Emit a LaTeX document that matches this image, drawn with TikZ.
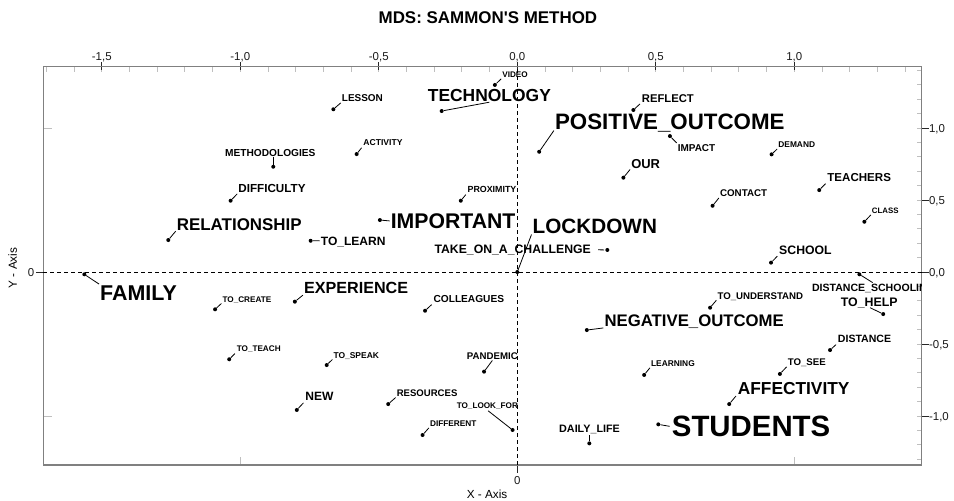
\documentclass[tikz,border=0pt]{standalone}
\usepackage{fontspec}
\setmainfont{Liberation Sans}[Ligatures=TeXOff]
\usetikzlibrary{positioning}

\tikzset{
  dot/.style={circle, fill=black, inner sep=0pt, minimum size=4bp},
  word/.style={font=\bfseries\fontsize{#1}{#1}\selectfont, inner sep=1bp, text depth=0pt, anchor=base west},
  lead/.style={line width=0.8bp, shorten >=1bp},
  minor/.style={draw=black!25, line width=0.8bp},
  major/.style={draw=black!85, line width=0.8bp},
  num/.style={font=\fontsize{11.5}{11.5}\selectfont, text=black!90, inner sep=0pt, text depth=0pt},
  axisline/.style={line width=0.8bp, dash pattern=on 4bp off 3bp},
}

\begin{document}
\begin{tikzpicture}[x=277bp, y=144bp]
    \useasboundingbox (-1.8675,-1.5833) rectangle (1.5765,1.8889);

    % Frame and ticks
    \coordinate (fsw) at (-1.711,-1.340);
    \coordinate (fne) at (1.460,1.426);
    \foreach \t in {-1.7,-1.6,...,1.45} \draw[minor] (\t,1.426) -- ++(0,-5bp);
    \foreach \t in {-1.3,-1.2,...,1.45} \draw[minor] (1.460,\t) -- ++(-5bp,0);
    \draw[minor] (-1.711,1) -- ++(9bp,0) (-1.711,-1) -- ++(9bp,0);
    \draw[minor] (-1,-1.340) -- ++(0,8bp) (1,-1.340) -- ++(0,8bp);
    \foreach \t/\l [count=\i] in {-1.5/{-1,5}, -1/{-1,0}, -0.5/{-0,5}, 0/{0,0}, 0.5/{0,5}, 1/{1,0}} {
        \draw[major] (\t,1.426) ++(0,-3bp) -- ++(0,8bp);
        \node[num, anchor=base] (xt\i) at (\t,1.472) {\l};
    }
    \foreach \t/\l [count=\i] in {1/{1,0}, 0.5/{0,5}, 0/{0,0}, -0.5/{-0,5}, -1/{-1,0}} {
        \draw[major] (1.460,\t) -- ++(7bp,0);
        \node[num, anchor=west] (yt\i) at (1.486,\t) {\l};
    }
    \draw[major] (-1.711,0) -- ++(-7bp,0);
    \node[num, anchor=east] (y0) at (-1.743,0) {0};
    \draw[major] (0,-1.340) -- ++(0,-8bp);
    \node[num, anchor=north] (x0) at (0,-1.417) {0};
    \draw[gray, line width=1.5bp] (fsw) rectangle (fne);

    % Axes
    \draw[axisline] (-1.711,0) -- (1.460,0);
    \draw[axisline] (0,-1.340) -- (0,1.426);

    % Titles
    \node[font=\bfseries\fontsize{17}{17}\selectfont] (title) at (-0.106,1.764) {MDS: SAMMON'S METHOD};
    \node[font=\fontsize{11.8}{11.8}\selectfont] (xlab) at (-0.109,-1.542) {X - Axis};
    \node[font=\fontsize{11.8}{11.8}\selectfont, rotate=90] (ylab) at (-1.822,0.028) {Y - Axis};

    % Points
    \node[dot] (lesson) at (-0.664,1.130) {};
    \node[dot] (technology) at (-0.273,1.118) {};
    \node[dot] (video) at (-0.081,1.299) {};
    \node[dot] (methods) at (-0.881,0.731) {};
    \node[dot] (activity) at (-0.580,0.819) {};
    \node[dot] (difficulty) at (-1.035,0.495) {};
    \node[dot] (relation) at (-1.260,0.222) {};
    \node[dot] (important) at (-0.496,0.361) {};
    \node[dot] (tolearn) at (-0.746,0.217) {};
    \node[dot] (proximity) at (-0.204,0.495) {};
    \node[dot] (lockdown) at (0,0) {};
    \node[dot] (challenge) at (0.325,0.153) {};
    \node[dot] (positive) at (0.079,0.835) {};
    \node[dot] (reflect) at (0.419,1.125) {};
    \node[dot] (impact) at (0.551,0.944) {};
    \node[dot] (our) at (0.383,0.655) {};
    \node[dot] (demand) at (0.918,0.817) {};
    \node[dot] (teachers) at (1.090,0.569) {};
    \node[dot] (contact) at (0.705,0.460) {};
    \node[dot] (class) at (1.253,0.349) {};
    \node[dot] (school) at (0.916,0.065) {};
    \node[dot] (distschool) at (1.235,-0.016) {};
    \node[dot] (tohelp) at (1.321,-0.292) {};
    \node[dot] (understand) at (0.696,-0.248) {};
    \node[dot] (negative) at (0.251,-0.403) {};
    \node[dot] (distance) at (1.129,-0.542) {};
    \node[dot] (tosee) at (0.948,-0.708) {};
    \node[dot] (learning) at (0.458,-0.715) {};
    \node[dot] (affect) at (0.765,-0.917) {};
    \node[dot] (students) at (0.509,-1.058) {};
    \node[dot] (daily) at (0.260,-1.190) {};
    \node[dot] (pandemic) at (-0.120,-0.692) {};
    \node[dot] (lookfor) at (-0.017,-1.097) {};
    \node[dot] (different) at (-0.342,-1.132) {};
    \node[dot] (resources) at (-0.466,-0.917) {};
    \node[dot] (colleagues) at (-0.333,-0.269) {};
    \node[dot] (experience) at (-0.803,-0.206) {};
    \node[dot] (tocreate) at (-1.091,-0.259) {};
    \node[dot] (family) at (-1.563,-0.016) {};
    \node[dot] (toteach) at (-1.040,-0.606) {};
    \node[dot] (tospeak) at (-0.688,-0.646) {};
    \node[dot] (new) at (-0.796,-0.958) {};

    % Words
    \begin{scope}
    \clip (fsw) rectangle (fne);
    \node[word=10] (lesson-w) at ([shift={(7.4bp,7.6bp)}]lesson) {LESSON};
    \node[word=17.5] (technology-w) at ([shift={(-15bp,10bp)}]technology) {TECHNOLOGY};
    \node[word=8.2] (video-w) at ([shift={(6.3bp,7.3bp)}]video) {VIDEO};
    \node[word=10.2] (methods-w) at ([shift={(-49.3bp,10.7bp)}]methods) {METHODOLOGIES};
    \node[word=8.6] (activity-w) at ([shift={(5.6bp,8.3bp)}]activity) {ACTIVITY};
    \node[word=11.7] (difficulty-w) at ([shift={(6.6bp,8bp)}]difficulty) {DIFFICULTY};
    \node[word=17] (relation-w) at ([shift={(7.4bp,10bp)}]relation) {RELATIONSHIP};
    \node[word=21.3] (important-w) at ([shift={(9.7bp,-8.3bp)}]important) {IMPORTANT};
    \node[word=12.1] (tolearn-w) at ([shift={(9bp,-4.3bp)}]tolearn) {TO\_LEARN};
    \node[word=8.9] (proximity-w) at ([shift={(5.6bp,8bp)}]proximity) {PROXIMITY};
    \node[word=20.8] (lockdown-w) at ([shift={(14.2bp,38.7bp)}]lockdown) {LOCKDOWN};
    \node[word=12.3] (challenge-w) at ([shift={(-174bp,-4bp)}]challenge) {TAKE\_ON\_A\_CHALLENGE};
    \node[word=22.4] (positive-w) at ([shift={(14.7bp,22.4bp)}]positive) {POSITIVE\_OUTCOME};
    \node[word=11.3] (reflect-w) at ([shift={(7.4bp,8bp)}]reflect) {REFLECT};
    \node[word=10] (impact-w) at ([shift={(6.7bp,-15bp)}]impact) {IMPACT};
    \node[word=13] (our-w) at ([shift={(6.7bp,9.4bp)}]our) {OUR};
    \node[word=8.4] (demand-w) at ([shift={(5.6bp,6.6bp)}]demand) {DEMAND};
    \node[word=11.6] (teachers-w) at ([shift={(7bp,8.3bp)}]teachers) {TEACHERS};
    \node[word=9.8] (contact-w) at ([shift={(6.3bp,9bp)}]contact) {CONTACT};
    \node[word=7.9] (class-w) at ([shift={(6.4bp,8bp)}]class) {CLASS};
    \node[word=12.3] (school-w) at ([shift={(7bp,8.4bp)}]school) {SCHOOL};
    \node[word=10.6] (distschool-w) at ([shift={(-48.6bp,-17.4bp)}]distschool) {DISTANCE\_SCHOOLING};
    \node[word=12.4] (tohelp-w) at ([shift={(-43.6bp,8bp)}]tohelp) {TO\_HELP};
    \node[word=9.7] (understand-w) at ([shift={(6.3bp,8.7bp)}]understand) {TO\_UNDERSTAND};
    \node[word=16.8] (negative-w) at ([shift={(16.6bp,3.3bp)}]negative) {NEGATIVE\_OUTCOME};
    \node[word=10.6] (distance-w) at ([shift={(6.7bp,7.3bp)}]distance) {DISTANCE};
    \node[word=9.7] (tosee-w) at ([shift={(6.7bp,8.3bp)}]tosee) {TO\_SEE};
    \node[word=8.4] (learning-w) at ([shift={(5.7bp,8.3bp)}]learning) {LEARNING};
    \node[word=17.4] (affect-w) at ([shift={(7.4bp,10bp)}]affect) {AFFECTIVITY};
    \node[word=29.5] (students-w) at ([shift={(12.4bp,-12.4bp)}]students) {STUDENTS};
    \node[word=10.8] (daily-w) at ([shift={(-31.3bp,11bp)}]daily) {DAILY\_LIFE};
    \node[word=9.7] (pandemic-w) at ([shift={(-18.3bp,12.4bp)}]pandemic) {PANDEMIC};
    \node[word=8.2] (lookfor-w) at ([shift={(-57bp,21bp)}]lookfor) {TO\_LOOK\_FOR};
    \node[word=8.3] (different-w) at ([shift={(6.3bp,8.3bp)}]different) {DIFFERENT};
    \node[word=9.6] (resources-w) at ([shift={(7.4bp,7.7bp)}]resources) {RESOURCES};
    \node[word=10.2] (colleagues-w) at ([shift={(7.3bp,8bp)}]colleagues) {COLLEAGUES};
    \node[word=16.2] (experience-w) at ([shift={(8bp,7.7bp)}]experience) {EXPERIENCE};
    \node[word=8.2] (tocreate-w) at ([shift={(6.3bp,7bp)}]tocreate) {TO\_CREATE};
    \node[word=21.5] (family-w) at ([shift={(14.7bp,-25.7bp)}]family) {FAMILY};
    \node[word=8.2] (toteach-w) at ([shift={(6.4bp,7.6bp)}]toteach) {TO\_TEACH};
    \node[word=8.5] (tospeak-w) at ([shift={(5.6bp,6.7bp)}]tospeak) {TO\_SPEAK};
    \node[word=12.1] (new-w) at ([shift={(7.3bp,9bp)}]new) {NEW};
    \end{scope}

    % Leaders
    \draw[lead] (lesson) -- (lesson-w.south west) (video) -- (video-w.south west) (activity) -- (activity-w.south west);
    \draw[lead] (difficulty) -- (difficulty-w.south west) (relation) -- (relation-w.south west) (proximity) -- (proximity-w.south west);
    \draw[lead] (lockdown) -- (lockdown-w.south west) (positive) -- (positive-w.south west) (reflect) -- (reflect-w.south west);
    \draw[lead] (our) -- (our-w.south west) (demand) -- (demand-w.south west) (teachers) -- (teachers-w.south west);
    \draw[lead] (contact) -- (contact-w.south west) (class) -- (class-w.south west) (school) -- (school-w.south west);
    \draw[lead] (understand) -- (understand-w.south west) (negative) -- (negative-w.south west) (distance) -- (distance-w.south west);
    \draw[lead] (tosee) -- (tosee-w.south west) (learning) -- (learning-w.south west) (affect) -- (affect-w.south west);
    \draw[lead] (different) -- (different-w.south west) (resources) -- (resources-w.south west) (colleagues) -- (colleagues-w.south west);
    \draw[lead] (experience) -- (experience-w.south west) (tocreate) -- (tocreate-w.south west) (toteach) -- (toteach-w.south west);
    \draw[lead] (tospeak) -- (tospeak-w.south west) (new) -- (new-w.south west);
    \draw[lead] (technology) -- (technology-w.south) (pandemic) -- (pandemic-w.south) (lookfor) -- (lookfor-w.south);
    \draw[lead] (methods) -- (methods |- methods-w.south) (daily) -- (daily |- daily-w.south);
    \draw[lead] (important) -- (important-w.west) (tolearn) -- (tolearn-w.west) (students) -- (students-w.west);
    \draw[lead, shorten <=6bp] (challenge-w.east) -- (challenge);
    \draw[lead, shorten <=1bp, shorten >=0pt] (tohelp-w.south) -- (tohelp);
    \draw[lead] (impact) -- (impact-w.north west) (family) -- (family-w.north west) (distschool) -- (distschool-w.north);

\end{tikzpicture}
\end{document}
